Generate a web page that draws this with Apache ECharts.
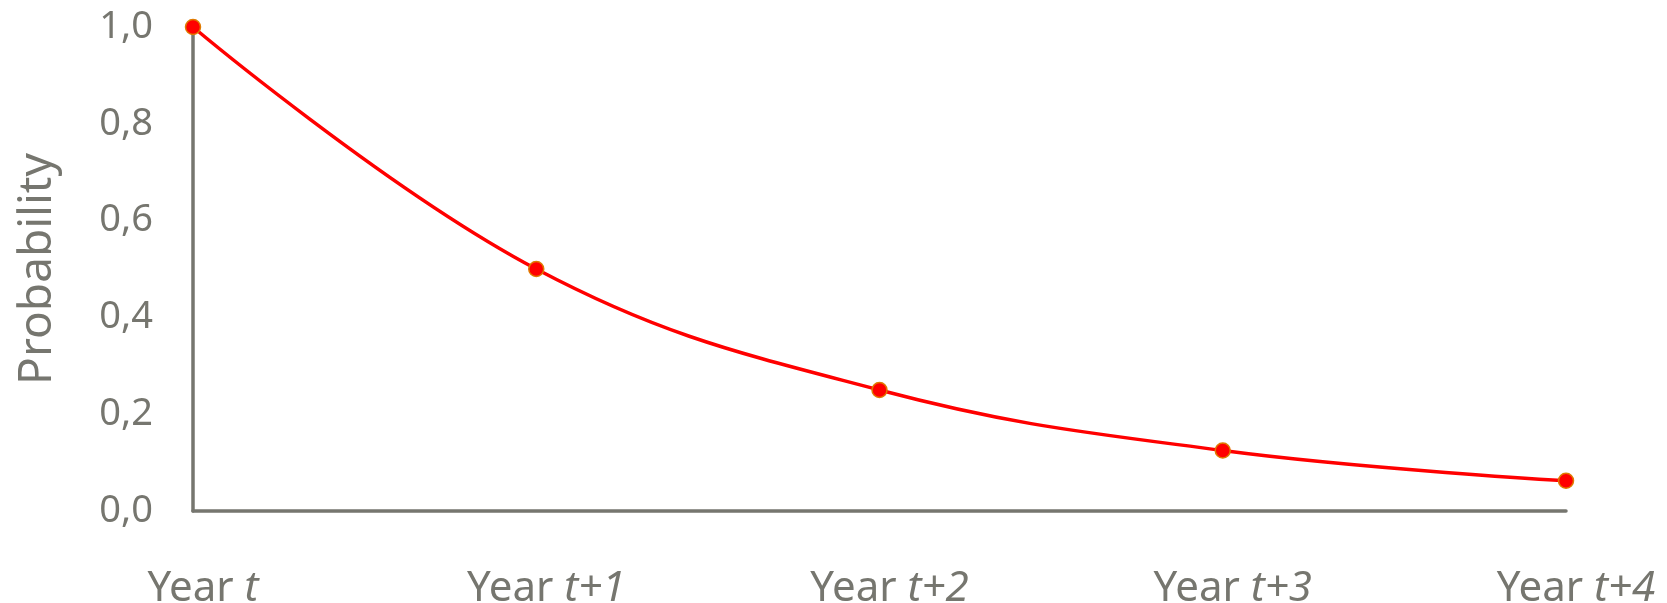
<!DOCTYPE html>
<html>
<head>
<meta charset="utf-8">
<script src="https://cdn.jsdelivr.net/npm/echarts@6/dist/echarts.min.js"></script>
<style>
  html, body { margin: 0; padding: 0; background: #fff; }
  #chart { width: 1667px; height: 603px; }
</style>
</head>
<body>
<div id="chart"></div>
<script>
// Period suffixes shown in italics after "Year"
const periods = ['t', 't+1', 't+2', 't+3', 't+4'];
// Probability for each period
const probability = [1.0, 0.5, 0.25, 0.125, 0.0625];
// Y-axis ticks
const yTicks = [0, 0.2, 0.4, 0.6, 0.8, 1.0];

const gray = '#76766f';
const font = 'Noto Sans';

const chart = echarts.init(document.getElementById('chart'), null, { renderer: 'canvas' });

chart.setOption({
  animation: false,
  backgroundColor: '#ffffff',
  grid: [
    { left: 193, right: 101, top: 27, bottom: 92, outerBoundsMode: 'none', containLabel: false },
    // label row, shifted a little to the right of the plot
    { left: 203, right: 91, top: 27, bottom: 92, outerBoundsMode: 'none', containLabel: false }
  ],
  xAxis: [
    {
      type: 'category',
      gridIndex: 0,
      data: periods,
      boundaryGap: false,
      axisLine: { show: true, lineStyle: { color: gray, width: 3.5 } },
      axisTick: { show: false },
      axisLabel: { show: false },
      splitLine: { show: false }
    },
    {
      type: 'category',
      gridIndex: 1,
      data: periods,
      boundaryGap: false,
      axisLine: { show: false },
      axisTick: { show: false },
      splitLine: { show: false },
      axisLabel: {
        show: true,
        margin: 57,
        color: gray,
        fontFamily: font,
        fontSize: 42,
        formatter: v => 'Year {i|' + v + '}',
        rich: {
          i: { fontStyle: 'italic', color: gray, fontFamily: font, fontSize: 42 }
        }
      }
    }
  ],
  yAxis: [
    {
      type: 'value',
      gridIndex: 0,
      min: yTicks[0],
      max: yTicks[yTicks.length - 1],
      interval: 0.2,
      name: 'Probability',
      nameLocation: 'middle',
      nameGap: 132,
      nameRotate: 90,
      nameTextStyle: { color: gray, fontFamily: font, fontSize: 46 },
      axisLine: { show: true, lineStyle: { color: gray, width: 3.5 } },
      axisTick: { show: false },
      splitLine: { show: false },
      axisLabel: {
        margin: 40,
        color: gray,
        fontFamily: font,
        fontSize: 38,
        formatter: v => v.toFixed(1).replace('.', ',')
      }
    },
    {
      type: 'value',
      gridIndex: 1,
      show: false,
      min: 0,
      max: 1
    }
  ],
  series: [
    {
      type: 'line',
      xAxisIndex: 0,
      yAxisIndex: 0,
      data: probability,
      smooth: 0.4,
      symbol: 'circle',
      symbolSize: 15,
      lineStyle: { color: '#ff0000', width: 3.5 },
      itemStyle: { color: '#ff0000', borderColor: '#e07a00', borderWidth: 1.5 },
      z: 3
    }
  ]
});
</script>
</body>
</html>
